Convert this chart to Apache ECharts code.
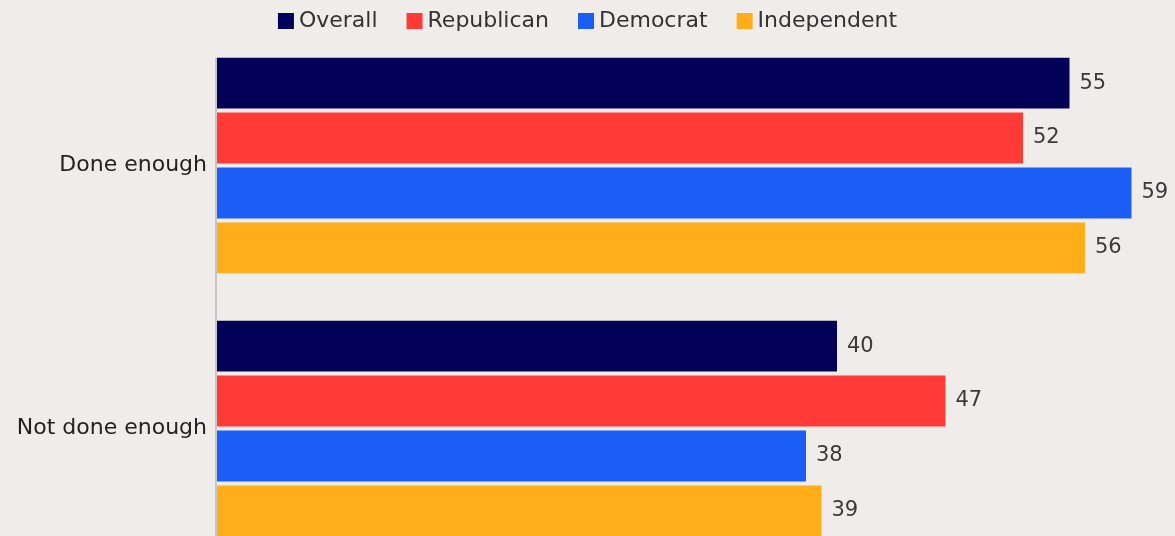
<!DOCTYPE html>
<html lang="en">
<head>
    <meta charset="utf-8">
    <title>Done enough</title>
    <script src="https://cdn.jsdelivr.net/npm/echarts@6/dist/echarts.min.js"></script>
    <style>
        html, body { margin: 0; padding: 0; background: #f0ecea; }
        #chart { width: 1175px; height: 536px; }
    </style>
</head>
<body>
<div id="chart"></div>
<script type="text/javascript">
    const categories = ['Done enough', 'Not done enough'];
    const seriesNames = ['Overall', 'Republican', 'Democrat', 'Independent'];
    const overall = [55, 40];
    const republican = [52, 47];
    const democrat = [59, 38];
    const independent = [56, 39];
    const colors = ['#020057', '#ff3a37', '#1a5ef5', '#ffad19'];

    const values = [overall, republican, democrat, independent];
    const font = '"DejaVu Sans", sans-serif';

    const chart = echarts.init(document.getElementById('chart'));
    const option = {
        backgroundColor: '#f0ecea',
        animation: false,
        textStyle: { fontFamily: font },
        legend: {
            top: 5,
            left: 'center',
            itemWidth: 16,
            itemHeight: 16,
            itemGap: 29,
            icon: 'rect',
            textStyle: { fontSize: 22, color: '#333', fontFamily: font },
            data: seriesNames
        },
        grid: {
            left: 217,
            right: 28,
            top: 34,
            height: 526,
            outerBoundsMode: 'none'
        },
        xAxis: {
            type: 'value',
            min: 0,
            max: 60,
            show: false
        },
        yAxis: {
            type: 'category',
            inverse: true,
            data: categories,
            axisLine: { show: false },
            axisTick: { show: false },
            axisLabel: { fontSize: 22, color: '#222', margin: 10, fontFamily: font }
        },
        series: values.map(function (v, i) {
            return {
                name: seriesNames[i],
                type: 'bar',
                data: v,
                barCategoryGap: '18%',
                barGap: '8%',
                itemStyle: { color: colors[i] },
                label: {
                    show: true,
                    position: 'right',
                    distance: 10,
                    fontSize: 21,
                    color: '#3a3a3a',
                    fontFamily: font
                }
            };
        })
    };
    chart.setOption(option);

    // axis line starts at the top of the first bar, not at the grid top
    const firstBar = chart.getModel().getSeriesByIndex(0).getData().getItemLayout(0);
    const x0 = chart.convertToPixel({ xAxisIndex: 0 }, 0);
    chart.setOption({
        graphic: [{
            type: 'line',
            shape: { x1: x0 - 1, y1: firstBar.y, x2: x0 - 1, y2: 536 },
            style: { stroke: '#c8c8c8', lineWidth: 2 },
            z: 10
        }]
    });
</script>
</body>
</html>
